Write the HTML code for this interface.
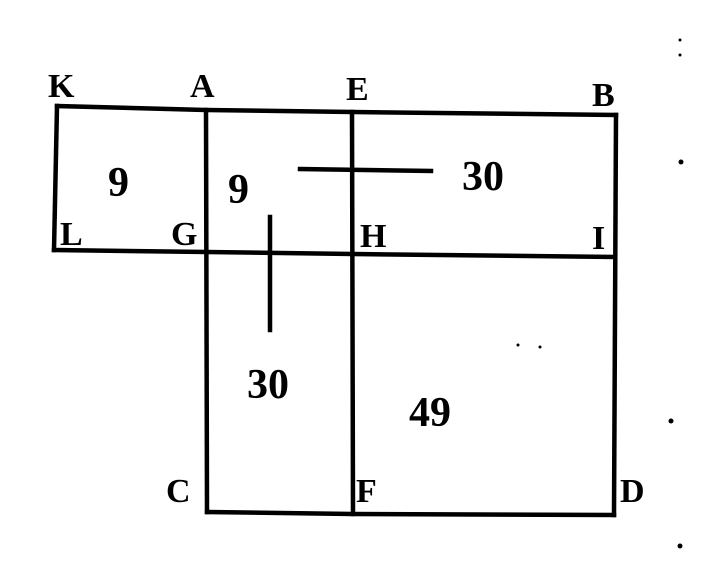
<!DOCTYPE html>
<html><head><meta charset="utf-8"><style>
html,body{margin:0;padding:0;background:#fff;width:704px;height:583px;overflow:hidden}
svg text{font-family:"Liberation Serif",serif;font-weight:bold;fill:#000}
.l{font-size:34px}.n{font-size:42px;font-weight:bold}
</style></head><body>
<svg width="704" height="583" viewBox="0 0 704 583">
<g stroke="#000" stroke-width="4.5" fill="none" stroke-linecap="square">
<polyline points="57,106 206,110 353,112 616,115"/>
<polyline points="54,250 207,252 353,254 614,257"/>
<polyline points="207,512 353,514 614,515"/>
<line x1="57" y1="106" x2="54" y2="250"/>
<line x1="206" y1="110" x2="207" y2="512"/>
<line x1="352" y1="112" x2="353" y2="514"/>
<line x1="616" y1="115" x2="614" y2="515"/>
<line x1="300" y1="169" x2="431" y2="171"/>
<line x1="270" y1="217" x2="270" y2="330"/>
</g>
<text class="l" x="48" y="97">K</text>
<text class="l" x="190" y="97">A</text>
<text class="l" x="346" y="100">E</text>
<text class="l" x="592" y="106">B</text>
<text class="l" x="60" y="245">L</text>
<text class="l" x="171" y="245">G</text>
<text class="l" x="360" y="247">H</text>
<text class="l" x="592" y="249">I</text>
<text class="l" x="166" y="502">C</text>
<text class="l" x="356" y="502">F</text>
<text class="l" x="620" y="502">D</text>
<text class="n" x="108" y="196">9</text>
<text class="n" x="228" y="203">9</text>
<text class="n" x="462" y="190">30</text>
<text class="n" x="247" y="398">30</text>
<text class="n" x="409" y="426">49</text>
<g fill="#000">
<circle cx="681" cy="162" r="2.5"/><circle cx="671" cy="421" r="2.5"/><circle cx="680" cy="546" r="2.5"/>
<circle cx="680" cy="40" r="1.5"/><circle cx="680" cy="55" r="1.5"/>
<circle cx="518" cy="345" r="1.5"/><circle cx="540" cy="347" r="1.5"/>
</g>
</svg>
</body></html>
